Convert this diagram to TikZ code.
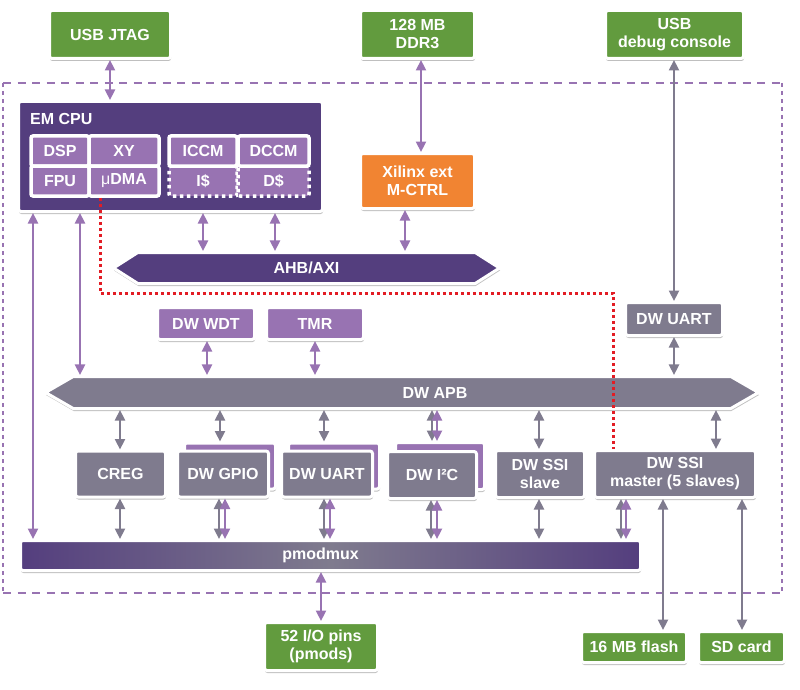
\documentclass[tikz,border=0pt]{standalone}
\usepackage{fontspec}
\setmainfont{Liberation Sans}
\usetikzlibrary{arrows.meta,shapes.arrows,shadows}
\definecolor{c0}{RGB}{98,155,62}
\definecolor{c1}{RGB}{84,62,126}
\definecolor{c2}{RGB}{152,115,178}
\definecolor{c3}{RGB}{127,123,142}
\definecolor{c4}{RGB}{241,132,50}
\definecolor{c5}{RGB}{226,28,36}
\tikzset{%
  blk/.style={rectangle,draw=white,line width=3pt,fill=#1,text=white,align=center,
    inner sep=0pt,rounded corners=2.5pt,
    drop shadow={shadow xshift=.5pt,shadow yshift=-2.5pt,opacity=.25,fill=black}},
  blk/.default=c3,
  sub/.style={rectangle,draw=white,line width=3.5pt,fill=c2,text=white,inner sep=0pt,
    minimum height=30pt,rounded corners=2pt},
  bus/.style={double arrow,double arrow head extend=0pt,draw=white,line width=3pt,
    fill=#1,text=white,inner sep=0pt,
    drop shadow={shadow xshift=.5pt,shadow yshift=-2.5pt,opacity=.25,fill=black}},
  lnk/.style={{Triangle[width=10pt,length=10.5pt]}-{Triangle[width=10pt,length=10.5pt]},
    line width=2.4pt,draw=#1},
  lnk/.default=c3
}

\begin{document}
\begin{tikzpicture}[x=1pt,y=-1pt,font=\bfseries\fontsize{16}{18}\selectfont]
  \useasboundingbox (0,0) rectangle (800,690);
  \coordinate (f0) at (3,83);
  \coordinate (f1) at (782,83);
  \coordinate (f2) at (782,593);
  \coordinate (f3) at (3,593);
  \draw[c2,line width=2.8pt,dash pattern=on 8pt off 6.5pt] (f0) -- (f1) (f3) -- (f2);
  \draw[c2,line width=2.8pt,dash pattern=on 4pt off 4pt] (f0) -- (f3) (f1) -- (f2);
  % top row
  \node[blk=c0,minimum width=121pt,minimum height=48pt] (jtag) at (110,34.5) {USB JTAG};
  \node[blk=c0,minimum width=114pt,minimum height=48pt] (ddr) at (417.5,34.5) {128 MB\\DDR3};
  \node[blk=c0,minimum width=138pt,minimum height=48pt] (dbg) at (674.5,34.5) {USB\\debug console};
  % cpu
  \node[blk=c1,minimum width=304pt,minimum height=110pt] (cpu) at (170.5,156.5) {};
  \node[text=white,inner sep=0pt,anchor=west] (cpulbl) at (30,119) {EM CPU};
  \node[sub,minimum width=58pt] (dsp) at (60,151) {DSP};
  \node[sub,minimum width=70pt] (xy) at (124,151) {XY};
  \node[sub,minimum width=58pt] (fpu) at (60,181) {FPU};
  \node[sub,minimum width=70pt] (udma) at (124,181) {{\mdseries μ}DMA};
  \node[sub,dash pattern=on 3.5pt off 3.5pt,minimum width=68pt] (icache) at (203,181) {I\$};
  \node[sub,dash pattern=on 3.5pt off 3.5pt,minimum width=71pt] (dcache) at (273.5,181) {D\$};
  \node[sub,minimum width=68pt] (iccm) at (203,151) {ICCM};
  \node[sub,minimum width=71pt] (dccm) at (273.5,151) {DCCM};
  \node[blk=c4,minimum width=114pt,minimum height=55pt] (xil) at (417.5,181) {Xilinx ext\\M-CTRL};
  % buses
  \node[bus=c1,minimum height=386pt,minimum width=31pt,double arrow tip angle=65] (ahb) at (306.5,268) {AHB/AXI};
  \node[blk=c2,minimum width=97pt,minimum height=32pt] (wdt) at (206,323.5) {DW WDT};
  \node[blk=c2,minimum width=97pt,minimum height=32pt] (tmr) at (315,323.5) {TMR};
  \node[blk,minimum width=97pt,minimum height=33pt] (uartx) at (674,319) {DW UART};
  \node[bus=c3,minimum height=713pt,minimum width=32pt,double arrow tip angle=60] (apb) at (402,392.5) {};
  \node[text=white,inner sep=0pt] (apblbl) at ([xshift=33pt]apb.center) {DW APB};
  % peripherals
  \node[blk=c2,minimum width=91pt,minimum height=46pt] (gpiob) at (230,466) {};
  \node[blk=c2,minimum width=91pt,minimum height=46pt] (uartb) at (334,466) {};
  \node[blk=c2,minimum width=89pt,minimum height=47pt] (i2cb) at (440,466) {};
  \node[blk,minimum width=90pt,minimum height=46pt] (creg) at (120.5,474) {CREG};
  \node[blk,minimum width=91pt,minimum height=46pt] (gpio) at (223,474) {DW GPIO};
  \node[blk,minimum width=91pt,minimum height=46pt] (uart) at (327,474) {DW UART};
  \node[blk,minimum width=89pt,minimum height=47pt] (i2c) at (432,475) {DW I²C};
  \node[blk,minimum width=89pt,minimum height=47pt] (ssis) at (540,474) {DW SSI\\slave};
  \node[blk,minimum width=161pt,minimum height=47pt] (ssim) at (675,474) {DW SSI\\master (5 slaves)};
  \node[blk,left color=c1,right color=c1,middle color=c3,minimum width=620pt,minimum height=30pt] (pmod) at (330.5,555.5) {};
  \node[text=white,inner sep=0pt] (pmodlbl) at ([xshift=-10pt]pmod.center) {pmodmux};
  % outside
  \node[blk=c0,minimum width=113pt,minimum height=48pt] (pins) at (321,646.5) {52 I/O pins\\(pmods)};
  \node[blk=c0,minimum width=105pt,minimum height=31pt] (flash) at (634,647) {16 MB flash};
  \node[blk=c0,minimum width=86pt,minimum height=31pt] (sd) at (741.5,647) {SD card};
  %%%
  \foreach \x/\a/\b/\col in {110/jtag/cpu/c2, 421/ddr/xil/c2, 405/xil/ahb/c2, 203/cpu/ahb/c2,
      275/cpu/ahb/c2, 80/cpu/apb/c2, 33/cpu/pmod/c2, 207/wdt/apb/c2, 315/tmr/apb/c2,
      674/dbg/uartx/c3, 674/uartx/apb/c3, 120/apb/creg/c3, 220/apb/gpiob/c3, 324/apb/uartb/c3,
      432/apb/i2cb/c3, 437/apb/i2cb/c2, 539/apb/ssis/c3, 716/apb/ssim/c3,
      120/creg/pmod/c3, 219/gpio/pmod/c3, 225/gpio/pmod/c2, 324/uart/pmod/c3, 330/uart/pmod/c2,
      431/i2c/pmod/c3, 437/i2c/pmod/c2, 539/ssis/pmod/c3, 621/ssim/pmod/c3, 626/ssim/pmod/c2,
      663/ssim/flash/c3, 742/ssim/sd/c3, 321/pmod/pins/c2}
  {
    \coordinate (t) at (\x,0);
    \draw[lnk=\col] (\a.south -| t) -- (\b.north -| t);
  }
  %%%
  \coordinate (rt) at (613,293);
  \draw[c5,line width=3pt,dash pattern=on 3pt off 3pt] ([xshift=-24pt]udma.south) |- (rt) -- (ssim.north -| rt);
\end{tikzpicture}
\end{document}
